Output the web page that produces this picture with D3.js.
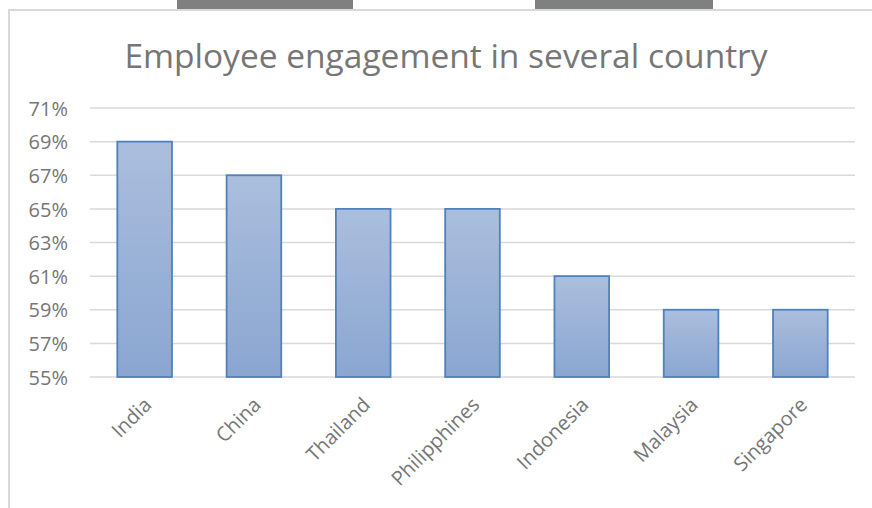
<!DOCTYPE html>
<html lang="en">
<head>
    <meta charset="UTF-8">
    <title>Employee engagement</title>
    <style>
        body{ margin:0; background:white; }
        svg text{ font-family:"Open Sans", sans-serif; fill:#767676; }
    </style>
</head>
<body>
<script src="https://cdn.jsdelivr.net/npm/d3@7"></script>
<script>

    var countries = ["India", "China", "Thailand", "Philipphines", "Indonesia", "Malaysia", "Singapore"];
    var engagement = [0.69, 0.67, 0.65, 0.65, 0.61, 0.59, 0.59];
    var yTicks = [0.55, 0.57, 0.59, 0.61, 0.63, 0.65, 0.67, 0.69, 0.71];
    var title = "Employee engagement in several country";

    var width = 872, height = 508;
    var m = {left: 90, right: 17, top: 108, bottom: 131};

    var svg = d3.select("body").append("svg")
            .attr("width", width)
            .attr("height", height);

    // bits of the window behind the chart, cut off at the top
    svg.append("rect").attr("x", 177).attr("y", 0).attr("width", 176).attr("height", 9).style("fill", "#808080");
    svg.append("rect").attr("x", 535).attr("y", 0).attr("width", 178).attr("height", 9).style("fill", "#7f8181");

    // chart frame (left and top edges only show)
    svg.append("path")
            .attr("d", "M9,508 V10 H872")
            .style("fill", "none")
            .style("stroke", "#d9d9d9")
            .style("stroke-width", 2);

    var defs = svg.append("defs");
    var grad = defs.append("linearGradient")
            .attr("id", "barGrad")
            .attr("x1", 0).attr("y1", 0).attr("x2", 0).attr("y2", 1);
    grad.append("stop").attr("offset", "0%").attr("stop-color", "#abbedd");
    grad.append("stop").attr("offset", "100%").attr("stop-color", "#8aa6d1");

    var x = d3.scaleBand()
            .domain(countries)
            .range([m.left, width - m.right])
            .paddingInner(0.5)
            .paddingOuter(0.25);

    var y = d3.scaleLinear()
            .domain([0.55, 0.71])
            .range([height - m.bottom, m.top]);

    svg.append("text")
            .attr("x", 446)
            .attr("y", 68)
            .attr("text-anchor", "middle")
            .style("font-size", "33.5px")
            .text(title);

    // gridlines
    svg.append("g")
            .selectAll("line")
            .data(yTicks)
            .enter().append("line")
            .attr("x1", m.left)
            .attr("x2", width - m.right)
            .attr("y1", function(d){ return y(d); })
            .attr("y2", function(d){ return y(d); })
            .style("stroke", "#d9d9d9")
            .style("stroke-width", 1.5);

    var yAxis = svg.append("g")
            .attr("transform", "translate(" + (m.left - 22) + ",0)")
            .call(d3.axisLeft(y).tickValues(yTicks).tickFormat(d3.format(".0%")).tickSize(0));
    yAxis.select(".domain").remove();
    yAxis.selectAll("text")
            .attr("x", 0)
            .attr("dy", "0.36em")
            .style("font-size", "20px")
            .style("font-family", "'Open Sans', sans-serif")
            .style("fill", "#767676");

    svg.append("g")
            .selectAll("rect")
            .data(engagement)
            .enter().append("rect")
            .attr("x", function(d, i){ return x(countries[i]); })
            .attr("y", function(d){ return y(d); })
            .attr("width", x.bandwidth())
            .attr("height", function(d){ return y(0.55) - y(d); })
            .style("fill", "url(#barGrad)")
            .style("stroke", "#4f81bd")
            .style("stroke-width", 1.8);

    var xAxis = svg.append("g")
            .attr("transform", "translate(0," + (height - m.bottom) + ")")
            .call(d3.axisBottom(x).tickSize(0));
    xAxis.select(".domain").remove();
    xAxis.selectAll("text")
            .attr("text-anchor", "end")
            .attr("dx", 0)
            .attr("dy", 0)
            .attr("transform", "translate(6,27) rotate(-45)")
            .style("font-size", "20px")
            .style("font-family", "'Open Sans', sans-serif")
            .style("fill", "#767676");

</script>
</body>
</html>
